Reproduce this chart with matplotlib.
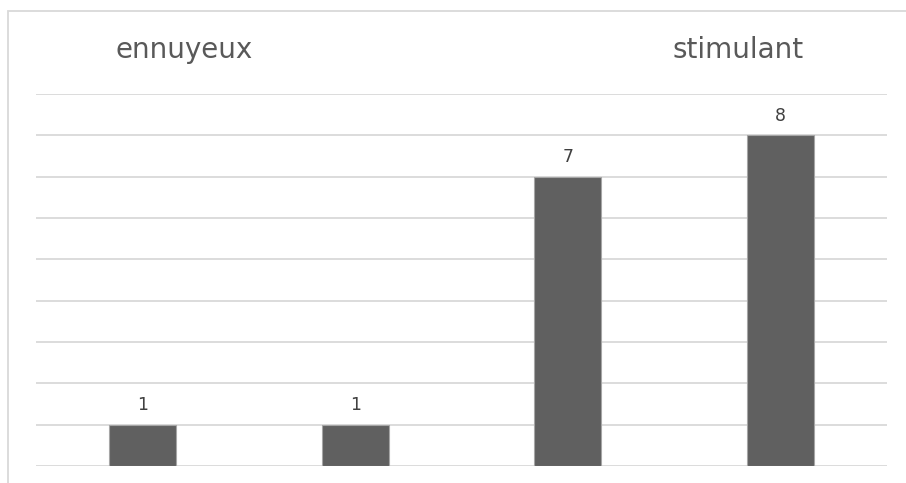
import matplotlib.pyplot as plt
from matplotlib.patches import Rectangle

# survey scale, from "ennuyeux" to "stimulant"
categories = ["1", "2", "3", "4"]
counts = [1, 1, 7, 8]
scale_labels = ["ennuyeux", "stimulant"]

W, H = 906, 483
fig = plt.figure(figsize=(W / 100, H / 100), dpi=100)
fig.patch.set_facecolor("white")

# chart frame: only left and top edges are visible in the crop
fig.add_artist(Rectangle((8 / W, -0.2), 1.2, 1 - 11 / H + 0.2, transform=fig.transFigure,
                         fill=False, edgecolor="#d9d9d9", linewidth=1.3))

ax = fig.add_axes([36 / W, 1 - 466 / H, (887 - 36) / W, (466 - 94) / H])
x = range(len(categories))
bars = ax.bar(x, counts, width=0.315, color="#606060", edgecolor="#a6a6a6", linewidth=0.8, zorder=3)
ax.bar_label(bars, labels=[str(c) for c in counts], padding=7.5, fontsize=12.5,
             color="#404040", family="DejaVu Sans")

ax.set_xlim(-0.5, len(categories) - 0.5)
ax.set_ylim(0, 9)
ax.set_yticks(range(0, 10))
ax.grid(axis="y", color="#d9d9d9", linewidth=1.3, zorder=0)
ax.tick_params(left=False, bottom=False, labelleft=False, labelbottom=False)
for s in ax.spines.values():
    s.set_visible(False)

fig.text(184.5 / W, 1 - 58 / H, scale_labels[0], ha="center", va="baseline",
         fontsize=20, color="#595959", family="DejaVu Sans")
fig.text(738 / W, 1 - 58 / H, scale_labels[1], ha="center", va="baseline",
         fontsize=20, color="#595959", family="DejaVu Sans")

fig.savefig("out.png", dpi=100)
